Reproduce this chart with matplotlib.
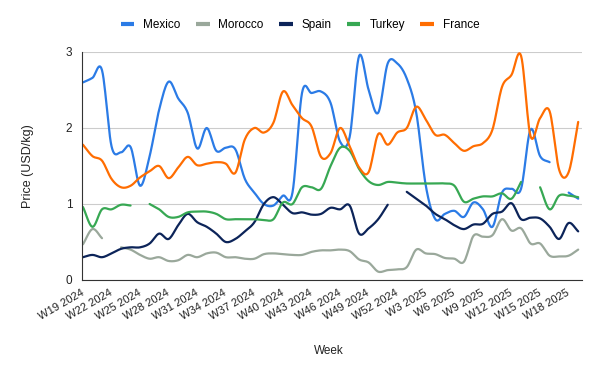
import numpy as np
import matplotlib
matplotlib.use('Agg')
import matplotlib.pyplot as plt
from matplotlib.transforms import ScaledTranslation

plt.rcParams['font.family'] = ['Liberation Sans', 'DejaVu Sans']

nan = np.nan

# weekly prices (USD/kg), W19 2024 .. W19 2025
weeks = [f'W{w} 2024' for w in range(19, 53)] + [f'W{w} 2025' for w in range(1, 20)]

mexico = [2.60, 2.66, 2.76, 1.76, 1.68, 1.75, 1.24, 1.63, 2.24, 2.61,
          2.39, 2.20, 1.73, 2.00, 1.70, 1.74, 1.72, 1.33, 1.15, 1.00,
          0.98, 1.11, 1.15, 2.46, 2.46, 2.48, 2.33, 1.82, 1.88, 2.95,
          2.50, 2.20, 2.85, 2.85, 2.65, 2.20, 1.24, 0.80, 0.87, 0.91,
          0.83, 1.02, 0.93, 0.70, 1.15, 1.20, 1.20, 1.98, 1.63, 1.55,
          nan, 1.15, 1.07]
morocco = [0.47, 0.67, 0.55, nan, 0.43, 0.40, 0.33, 0.28, 0.30, 0.25,
           0.26, 0.33, 0.30, 0.35, 0.36, 0.30, 0.30, 0.28, 0.28, 0.34,
           0.35, 0.34, 0.33, 0.33, 0.37, 0.39, 0.39, 0.40, 0.38, 0.27,
           0.23, 0.11, 0.13, 0.14, 0.17, 0.40, 0.35, 0.34, 0.29, 0.28,
           0.24, 0.58, 0.57, 0.59, 0.80, 0.65, 0.68, 0.48, 0.48, 0.32,
           0.31, 0.32, 0.40]
spain = [0.30, 0.33, 0.30, 0.35, 0.41, 0.43, 0.43, 0.48, 0.61, 0.54,
         0.72, 0.87, 0.76, 0.70, 0.61, 0.50, 0.54, 0.64, 0.76, 1.00,
         1.09, 0.99, 0.88, 0.89, 0.86, 0.87, 0.95, 0.93, 0.98, 0.61,
         0.68, 0.80, 0.99, nan, 1.16, 1.07, 0.98, 0.87, 0.80, 0.72,
         0.67, 0.73, 0.74, 0.87, 0.90, 1.01, 0.80, 0.82, 0.81, 0.70,
         0.54, 0.75, 0.64]
turkey = [0.96, 0.70, 0.93, 0.93, 0.99, 0.98, nan, 1.00, 0.93, 0.83,
          0.83, 0.89, 0.90, 0.90, 0.87, 0.80, 0.80, 0.80, 0.80, 0.79,
          0.80, 1.02, 1.00, 1.22, 1.22, 1.20, 1.50, 1.74, 1.70, 1.46,
          1.30, 1.25, 1.29, 1.28, 1.27, 1.27, 1.27, 1.27, 1.27, 1.24,
          1.03, 1.07, 1.10, 1.10, 1.14, 1.07, 1.29, nan, 1.22, 0.93,
          1.11, 1.11, 1.09]
france = [1.78, 1.63, 1.57, 1.33, 1.22, 1.24, 1.35, 1.43, 1.50, 1.34,
          1.48, 1.62, 1.51, 1.53, 1.55, 1.53, 1.41, 1.85, 2.00, 1.94,
          2.07, 2.48, 2.30, 2.13, 2.02, 1.62, 1.67, 2.00, 1.76, 1.48,
          1.42, 1.92, 1.78, 1.94, 2.00, 2.28, 2.11, 1.91, 1.91, 1.80,
          1.70, 1.76, 1.80, 1.98, 2.54, 2.70, 2.95, 1.89, 2.13, 2.22,
          1.45, 1.42, 2.08]

series = [('Mexico', mexico, '#2b7be6'),
          ('Morocco', morocco, '#9aa89b'),
          ('Spain', spain, '#0c2459'),
          ('Turkey', turkey, '#37a853'),
          ('France', france, '#ff6d01')]


def smooth(y, n=12):
    # catmull-rom through the points, broken at missing weeks
    y = np.asarray(y, float)
    idx = np.where(~np.isnan(y))[0]
    runs = np.split(idx, np.where(np.diff(idx) > 1)[0] + 1)
    out = []
    for r in runs:
        if len(r) < 2:
            out.append((r.astype(float), y[r]))
            continue
        p = np.r_[2 * y[r[0]] - y[r[1]], y[r], 2 * y[r[-1]] - y[r[-2]]]
        t = np.linspace(0, 1, n, endpoint=False)
        xs, ys = [], []
        for k in range(len(r) - 1):
            p0, p1, p2, p3 = p[k:k + 4]
            ys.append(0.5 * (2 * p1 + (p2 - p0) * t
                             + (2 * p0 - 5 * p1 + 4 * p2 - p3) * t ** 2
                             + (3 * p1 - p0 - 3 * p2 + p3) * t ** 3))
            xs.append(r[k] + t)
        xs.append([r[-1]])
        ys.append([y[r[-1]]])
        out.append((np.concatenate(xs), np.concatenate(ys)))
    return out


fig = plt.figure(figsize=(6, 3.71), dpi=100)
ax = fig.add_axes([82 / 600, 1 - 280 / 371, 500 / 600, 228 / 371])

for name, vals, col in series:
    for k, (xs, ys) in enumerate(smooth(vals)):
        ax.plot(xs, ys, color=col, lw=1.6, solid_capstyle='round',
                label=name if k == 0 else None)

ax.set_ylim(0, 3)
ax.set_xlim(-0.1, 52.4)
ax.set_yticks([0, 1, 2, 3])
ax.set_yticklabels(['0', '1', '2', '3'])
ticks = list(range(0, len(weeks), 3))
ax.set_xticks(ticks)
ax.set_xticklabels([weeks[i] for i in ticks], rotation=30, ha='right',
                   va='center', rotation_mode='anchor')
offset = ScaledTranslation(6 / 100, 0, fig.dpi_scale_trans)
for lab in ax.get_xticklabels():
    lab.set_transform(lab.get_transform() + offset)
ax.tick_params(axis='both', length=0, labelcolor='#222222')
ax.tick_params(axis='x', pad=8.5, labelsize=8)
ax.tick_params(axis='y', pad=7, labelsize=8.5)
ax.grid(axis='y', color='#cccccc', lw=0.8)
ax.set_axisbelow(True)
for s in ['top', 'right']:
    ax.spines[s].set_visible(False)
ax.spines['left'].set_color('#333333')
ax.spines['bottom'].set_color('#333333')

ax.set_ylabel('Price (USD/kg)', fontsize=9, color='#222222')
ax.yaxis.set_label_coords(-(82 - 34) / 500, 0.5)
ax.set_xlabel('Week', fontsize=8.5, color='#222222')
ax.xaxis.set_label_coords((329 - 82) / 500, -(345 - 280) / 228)

leg = fig.legend(loc='center', bbox_to_anchor=(0.5, 1 - 25 / 371), ncol=5,
                 frameon=False, fontsize=8.5, handlelength=1.15,
                 handletextpad=0.75, columnspacing=1.3)
for h in leg.get_lines():
    h.set_linewidth(3)
    h.set_solid_capstyle('butt')

fig.savefig('out.png', dpi=100)
